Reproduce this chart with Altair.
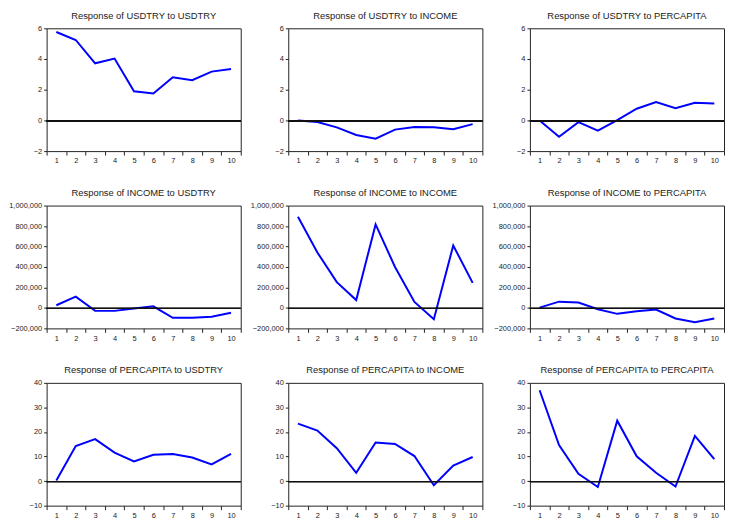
import altair as alt
import pandas as pd

steps = list(range(1, 11))

titles = [
    "Response of USDTRY to USDTRY", "Response of USDTRY to INCOME", "Response of USDTRY to PERCAPITA",
    "Response of INCOME to USDTRY", "Response of INCOME to INCOME", "Response of INCOME to PERCAPITA",
    "Response of PERCAPITA to USDTRY", "Response of PERCAPITA to INCOME", "Response of PERCAPITA to PERCAPITA",
]

usdtry_usdtry = [5.76, 5.24, 3.72, 4.03, 1.90, 1.75, 2.81, 2.62, 3.18, 3.35]
usdtry_income = [0.0, -0.11, -0.45, -0.95, -1.19, -0.60, -0.43, -0.45, -0.58, -0.24]
usdtry_percapita = [0.0, -1.06, -0.11, -0.67, 0.02, 0.76, 1.19, 0.80, 1.15, 1.10]

income_usdtry = [26000, 110000, -29000, -29000, -6000, 16000, -97000, -97000, -87000, -48000]
income_income = [890000, 542000, 252000, 77000, 816000, 400000, 58000, -110000, 610000, 245000]
income_percapita = [3000, 61000, 52000, -13000, -58000, -32000, -16000, -103000, -139000, -103000]

percapita_usdtry = [0.2, 14.3, 17.1, 11.6, 8.0, 10.7, 11.0, 9.6, 6.8, 11.1]
percapita_income = [23.4, 20.6, 13.4, 3.4, 15.7, 15.1, 10.2, -1.7, 6.3, 9.8]
percapita_percapita = [37.0, 14.7, 3.0, -2.4, 24.6, 10.1, 3.4, -2.2, 18.4, 8.9]

series = [usdtry_usdtry, usdtry_income, usdtry_percapita,
          income_usdtry, income_income, income_percapita,
          percapita_usdtry, percapita_income, percapita_percapita]

row_domains = [[-2, 6], [-200000, 1000000], [-10, 40]]
row_ticks = [[-2, 0, 2, 4, 6],
             [-200000, 0, 200000, 400000, 600000, 800000, 1000000],
             [-10, 0, 10, 20, 30, 40]]

FONT = "Liberation Sans"
W, H = 196, 124

panels = []
for i, (t, vals) in enumerate(zip(titles, series)):
    r = i // 3
    df = pd.DataFrame({"step": steps, "value": vals})
    base = alt.Chart(df)
    x = alt.X("step:O",
              scale=alt.Scale(type="band", paddingInner=0, paddingOuter=0),
              axis=alt.Axis(title=None, labelAngle=0, tickBand="extent", domain=False,
                            ticks=True, tickSize=4, tickColor="#222", labelFontSize=7.5,
                            labelColor="#222", labelFont=FONT, labelPadding=2, grid=False),
              bandPosition=0.5)
    y = alt.Y("value:Q",
              scale=alt.Scale(domain=row_domains[r], nice=False, zero=False),
              axis=alt.Axis(title=None, values=row_ticks[r], tickCount=20, format=",d", domain=False,
                            labelOverlap=False, labelFlush=False,
                            tickSize=3, tickColor="#222", labelFontSize=7.5, labelColor="#222",
                            labelFont=FONT, labelPadding=2, grid=False))
    line = base.mark_line(color="#0000FF", strokeWidth=2).encode(x=x, y=y)
    zero = base.mark_rule(color="#111111", strokeWidth=1, yOffset=0.5).encode(y=alt.datum(0))
    panel = alt.layer(line, zero).properties(
        width=W, height=H,
        view=alt.ViewBackground(stroke="#222222", strokeWidth=1),
        title=alt.TitleParams(t, fontSize=9.5, fontWeight="normal", color="#222", font=FONT, offset=4),
    )
    panels.append(panel)

chart = alt.concat(*panels, columns=3, spacing={"row": 23, "column": 8}).properties(
    padding={"left": 0, "top": 0, "right": 0, "bottom": 0}
).configure_view(stroke="#222222", strokeWidth=1).configure(background="white")

chart.save("out.html", embed_options={"renderer": "svg", "actions": False})
